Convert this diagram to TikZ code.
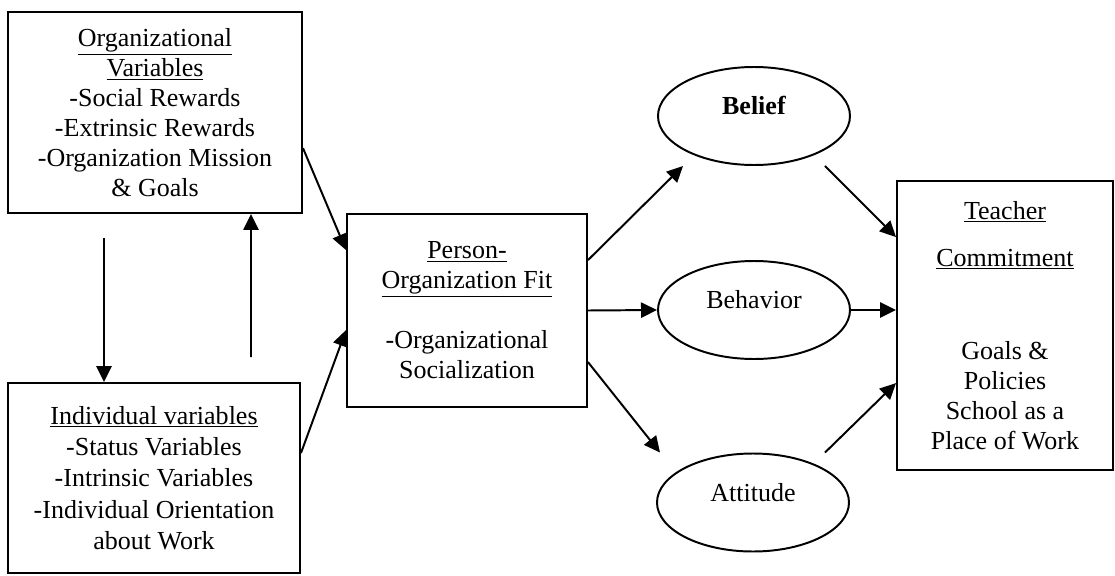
\documentclass[tikz,border=0pt]{standalone}
\usepackage{fontspec}
\setmainfont{Liberation Serif}
\usetikzlibrary{arrows.meta,shapes.geometric}

\begin{document}
\begin{tikzpicture}[
    >={Triangle[length=0.4cm,width=0.38cm]}, line width=1.4pt,
    every node/.style={font=\fontsize{18.5}{21.3}\selectfont},
    box/.style={draw, rectangle, align=center, inner sep=0pt},
    oval/.style={draw, ellipse, minimum width=4.8cm, minimum height=2.45cm,
        text height=0.5cm, text depth=0.57cm}
]
\useasboundingbox (0,0) rectangle (27.875,-14.4);

% boxes
\node[box, minimum width=7.35cm, minimum height=5.025cm] (org) at (3.875,-2.8125)
    {\underline{Organizational}\\\underline{Variables}\\-Social Rewards\\-Extrinsic Rewards\\-Organization Mission\\\& Goals};
\node[box, minimum width=7.3cm, minimum height=4.75cm] (ind) at (3.85,-11.95)
    {\underline{Individual variables}\\[1pt]-Status Variables\\[1pt]-Intrinsic Variables\\[1pt]-Individual Orientation\\[1pt]about Work};
\node[box, minimum width=6cm, minimum height=4.825cm] (pof) at (11.675,-7.7625)
    {\underline{Person-}\\\underline{Organization Fit}\\[0.75cm]-Organizational\\Socialization};
\node[box, minimum width=5.4cm, minimum height=7.225cm] (tc) at (25.125,-8.1375)
    {\underline{Teacher}\\[0.42cm]\underline{Commitment}\\[1.58cm]Goals \&\\Policies\\School as a\\Place of Work};

% ovals
\node[oval] (belief) at (18.85,-2.9) {\textbf{Belief}};
\node[oval] (behavior) at (18.85,-7.75) {Behavior};
\node[oval] (attitude) at (18.825,-12.5625) {Attitude};

% arrows
\draw[->] ([xshift=-1.275cm,yshift=-0.6cm]org.south) -- ([xshift=-1.25cm]ind.north);
\draw[->] ([xshift=2.425cm,yshift=0.625cm]ind.north) -- ([xshift=2.4cm]org.south);
\draw[->] ([yshift=-0.89cm]org.east) -- ([yshift=1.51cm]pof.west);
\draw[->] ([yshift=0.625cm]ind.east) -- ([yshift=-0.49cm]pof.west);
\draw[->] ([yshift=1.26cm]pof.east) -- ([xshift=-1.775cm]belief.south);
\draw[->] (pof.east) -- (behavior.west);
\draw[->] ([yshift=-1.29cm]pof.east) -- ([xshift=-2.325cm]attitude.north);
\draw[->] ([xshift=1.775cm]belief.south) -- ([yshift=2.21cm]tc.west);
\draw[->] (behavior.east) -- (behavior.east -| tc.west);
\draw[->] ([xshift=1.8cm]attitude.north) -- ([yshift=-1.44cm]tc.west);
\end{tikzpicture}
\end{document}
